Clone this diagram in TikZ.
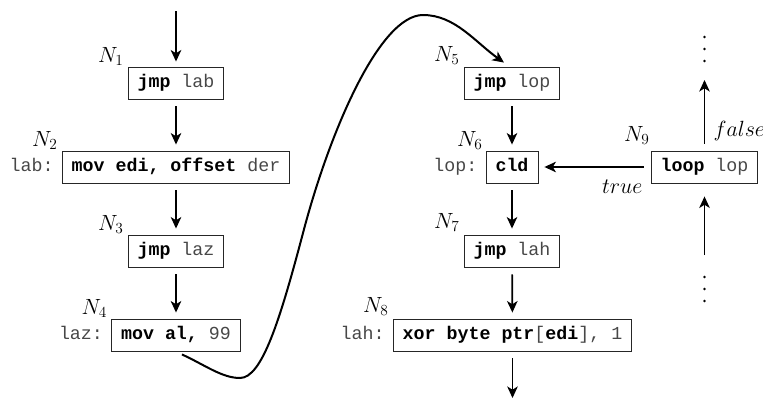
\RequirePackage{fix-cm}
\documentclass[tikz,border=0pt]{standalone}
\usepackage{fontspec}
\setmonofont{Liberation Mono}
\usetikzlibrary{arrows.meta}

\newcommand\codefont{\fontsize{18.3}{22}\selectfont\ttfamily\color{black!72}}
\newcommand\labfont{\fontsize{22}{26}\selectfont}
\newcommand\op[1]{\textcolor{black}{\textbf{#1}}}

\begin{document}
\begin{tikzpicture}[x=1pt,y=-1pt,
  box/.style={draw=black!85, line width=0.9pt, inner xsep=9.5pt, inner ysep=0pt,
    minimum height=32pt, text height=12.5pt, text depth=3.5pt, font=\codefont},
  tag/.style={inner sep=0pt, anchor=base east, font=\codefont},
  nlab/.style={inner sep=0pt, anchor=base east, font=\labfont},
  tip/.style={-{Stealth[length=11.5pt,width=10.5pt,inset=3.2pt]}},
  flow/.style={tip, line width=1.7pt, shorten <=7pt, shorten >=6pt},
  dot/.style={fill=black}]
\useasboundingbox (0,0) rectangle (763,399);

% left column
\node[box] (n1) at (176,83)  {\op{jmp} lab};
\node[box] (n2) at (176,167) {\op{mov edi, offset} der};
\node[box] (n3) at (176,251) {\op{jmp} laz};
\node[box] (n4) at (176,335) {\op{mov al,} 99};

% right column
\node[box] (n5) at (512,83)  {\op{jmp} lop};
\node[box] (n6) at (512,167) {\op{cld}};
\node[box] (n7) at (512,251) {\op{jmp} lah};
\node[box] (n8) at (512.5,335) {\op{xor byte ptr}[\op{edi}], 1};
\node[box] (n9) at (704.5,167) {\op{loop} lop};

% code labels
\node[tag] (t2) at ([xshift=-8pt]n2.base west) {lab:};
\node[tag] (t4) at ([xshift=-8pt]n4.base west) {laz:};
\node[tag] (t6) at ([xshift=-8pt]n6.base west) {lop:};
\node[tag] (t8) at ([xshift=-8pt]n8.base west) {lah:};

% node names
\node[nlab] (l1) at ([xshift=-4pt,yshift=4.5pt]n1.north west) {$N_1$};
\node[nlab] (l2) at ([xshift=-4pt,yshift=4.5pt]n2.north west) {$N_2$};
\node[nlab] (l3) at ([xshift=-4pt,yshift=4pt]n3.north west) {$N_3$};
\node[nlab] (l4) at ([xshift=-4pt,yshift=4.5pt]n4.north west) {$N_4$};
\node[nlab] (l5) at ([xshift=-4pt,yshift=5pt]n5.north west) {$N_5$};
\node[nlab] (l6) at ([xshift=-3pt,yshift=4.5pt]n6.north west) {$N_6$};
\node[nlab] (l7) at ([xshift=-4pt,yshift=6pt]n7.north west) {$N_7$};
\node[nlab] (l8) at ([xshift=-4pt,yshift=6pt]n8.north west) {$N_8$};
\node[nlab] (l9) at ([xshift=-1pt,yshift=9pt]n9.north west) {$N_9$};

% edges
\coordinate (entry) at (176,11);
\draw[flow, line width=2.6pt, shorten <=0pt, shorten >=5pt] (entry) -- (n1);
\draw[flow] (n1) -- (n2);
\draw[flow] (n2) -- (n3);
\draw[flow] (n3) -- (n4);
\draw[flow] (n5) -- (n6);
\draw[flow] (n6) -- (n7);
\draw[flow] (n7) -- (n8);
\coordinate (exit) at (512.5,398);
\draw[flow, shorten >=0pt] (n8) -- (exit);

\draw[tip, line width=2pt]
  ([xshift=6pt,yshift=-3pt]n4.south)
  .. controls (205,365) and (222,378) .. (240,378)
  .. controls (262,378) and (280,320) .. (303,233)
  .. controls (330,130) and (380,15) .. (423,15)
  .. controls (455,15) and (475,42) .. ([xshift=-8pt,yshift=4pt]n5.north);

% loop back edge and continuations
\draw[flow] (n9) -- (n6);
\node[inner sep=0pt, anchor=base east, font=\labfont] (tt) at ([xshift=-8pt,yshift=-10pt]n9.south west) {$true$};
\coordinate (up) at (704.5,80);
\draw[flow, shorten >=0pt] (n9) -- (up);
\node[inner sep=0pt, anchor=base west, font=\labfont] (ff) at ([xshift=9pt,yshift=14pt]n9.north) {$false$};
\coordinate (low) at (704.5,255);
\draw[flow, shorten <=0pt, shorten >=13pt] (low) -- (n9);

% vertical ellipses
\foreach \y in {37,49,61,277,289,301}
  \fill[dot] (704.5,\y) circle (1.3pt);
\end{tikzpicture}
\end{document}
